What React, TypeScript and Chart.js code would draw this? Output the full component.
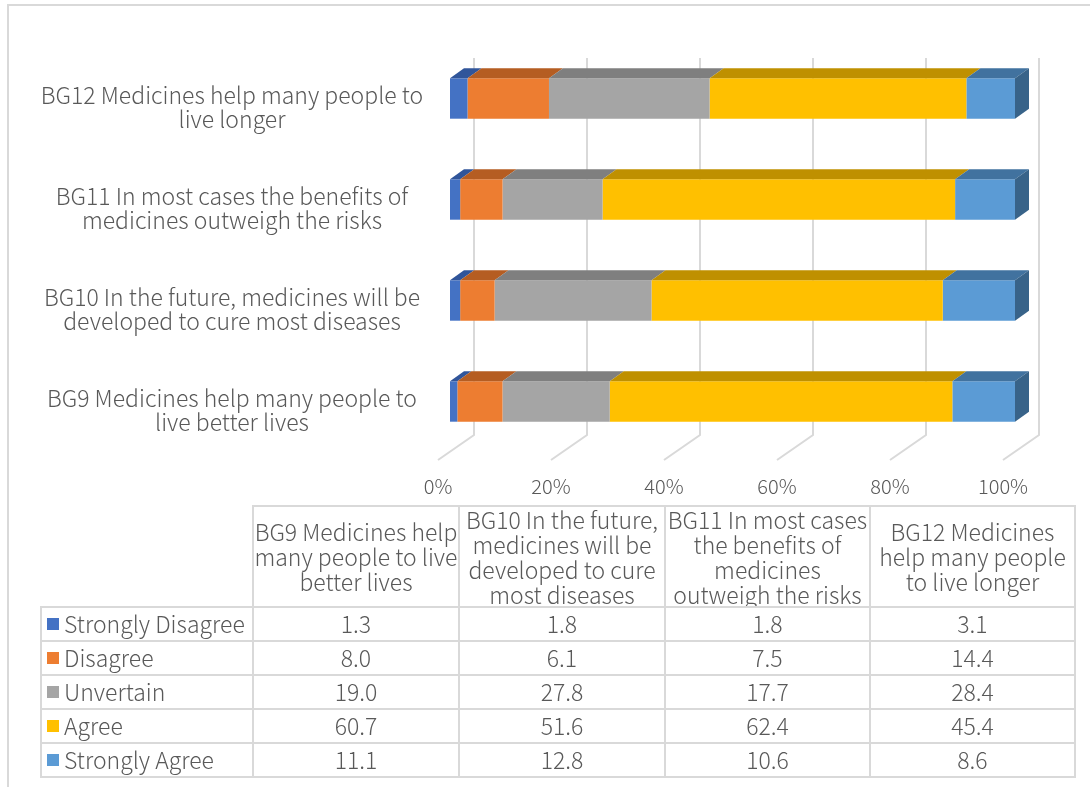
import React, { useEffect, useRef } from 'react';
import { Chart, registerables } from 'chart.js';

Chart.register(...registerables);

// ---------- data ----------
const categoryLabels: string[][] = [
  ['BG9 Medicines help many people to', 'live better lives'],
  ['BG10 In the future, medicines will be', 'developed to cure most diseases'],
  ['BG11 In most cases the benefits of', 'medicines outweigh the risks'],
  ['BG12 Medicines help many people to', 'live longer'],
];
const tableHeaderLines: string[][] = [
  ['BG9 Medicines help', 'many people to live', 'better lives'],
  ['BG10 In the future,', 'medicines will be', 'developed to cure', 'most diseases'],
  ['BG11 In most cases', 'the benefits of', 'medicines', 'outweigh the risks'],
  ['BG12 Medicines', 'help many people', 'to live longer'],
];
const seriesNames = ['Strongly Disagree', 'Disagree', 'Unvertain', 'Agree', 'Strongly Agree'];
const stronglyDisagree = [1.3, 1.8, 1.8, 3.1];
const disagree = [8.0, 6.1, 7.5, 14.4];
const uncertain = [19.0, 27.8, 17.7, 28.4];
const agree = [60.7, 51.6, 62.4, 45.4];
const stronglyAgree = [11.1, 12.8, 10.6, 8.6];
const xTicks = [0, 20, 40, 60, 80, 100];

const seriesValues = [stronglyDisagree, disagree, uncertain, agree, stronglyAgree];

// ---------- styles ----------
const FONT = '"Noto Sans CJK SC", "Noto Sans", sans-serif';
const WEIGHT = 300;
const TEXT = '#595959';
const GRID = '#d9d9d9';
const frontColors = ['#4472C4', '#ED7D31', '#A5A5A5', '#FFC000', '#5B9BD5'];
const topColors = ['#30559A', '#B55D22', '#7F7F7F', '#BF9000', '#41729F'];
const sideColor = '#386389';
const DEPTH_X = 14;
const DEPTH_Y = 10;
const colEdges = [41, 253, 459, 665, 870, 1075];
const rowEdges = [506, 607, 641, 675, 709, 743, 777];

const threeD = {
  id: 'threeD',
  beforeDatasetsDraw(chart: any) {
    const { ctx, chartArea, scales } = chart;
    const xs = scales.x;
    ctx.save();
    ctx.strokeStyle = GRID;
    ctx.lineWidth = 2;
    for (const v of xTicks) {
      const px = xs.getPixelForValue(v);
      const bx = px + 24;
      const by = chartArea.bottom - 17;
      ctx.beginPath();
      ctx.moveTo(bx, chartArea.top + 10);
      ctx.lineTo(bx, by);
      ctx.lineTo(px - 12, chartArea.bottom + 8);
      ctx.stroke();
    }
    ctx.restore();
  },
  afterDatasetsDraw(chart: any) {
    const { ctx } = chart;
    const n = chart.data.datasets.length;
    ctx.save();
    for (let d = 0; d < n; d++) {
      const meta = chart.getDatasetMeta(d);
      meta.data.forEach((el: any) => {
        const left = Math.min(el.base, el.x);
        const right = Math.max(el.base, el.x);
        const top = el.y - el.height / 2;
        const bottom = el.y + el.height / 2;
        ctx.fillStyle = topColors[d];
        ctx.beginPath();
        ctx.moveTo(left, top);
        ctx.lineTo(right, top);
        ctx.lineTo(right + DEPTH_X, top - DEPTH_Y);
        ctx.lineTo(left + DEPTH_X, top - DEPTH_Y);
        ctx.closePath();
        ctx.fill();
        if (d === n - 1) {
          ctx.fillStyle = sideColor;
          ctx.beginPath();
          ctx.moveTo(right, top);
          ctx.lineTo(right + DEPTH_X, top - DEPTH_Y);
          ctx.lineTo(right + DEPTH_X, bottom - DEPTH_Y);
          ctx.lineTo(right, bottom);
          ctx.closePath();
          ctx.fill();
        }
      });
    }
    ctx.restore();
  },
};

function ChartCanvas() {
  const ref = useRef<HTMLCanvasElement | null>(null);
  useEffect(() => {
    const canvas = ref.current!;
    const totals = categoryLabels.map((_, j) => seriesValues.reduce((s, arr) => s + arr[j], 0));

    const m = document.createElement('canvas').getContext('2d')!;
    m.font = `${WEIGHT} 23px ${FONT}`;
    let widest = 0;
    categoryLabels.forEach((lines) => lines.forEach((l) => { widest = Math.max(widest, m.measureText(l).width); }));
    const labelCenter = 232;
    const yPad = 450 - labelCenter - widest / 2;

    const chart = new Chart(canvas, {
      type: 'bar',
      data: {
        labels: categoryLabels as any,
        datasets: seriesNames.map((name, i) => ({
          label: name,
          data: seriesValues[i].map((v, j) => (v / totals[j]) * 100),
          backgroundColor: frontColors[i],
          borderWidth: 0,
          categoryPercentage: 0.8,
          barPercentage: 0.5,
        })),
      },
      options: {
        indexAxis: 'y',
        animation: false,
        responsive: false,
        maintainAspectRatio: false,
        layout: { padding: { top: 48, right: 75, left: 0, bottom: 0 } },
        plugins: { legend: { display: false }, tooltip: { enabled: false } },
        scales: {
          x: {
            stacked: true,
            min: 0,
            max: 100,
            grid: { display: false, drawTicks: false },
            border: { display: false },
            ticks: {
              stepSize: 20,
              callback: (v: any) => v + '%',
              labelOffset: -12,
              padding: 22,
              color: TEXT,
              font: { family: FONT, size: 20, weight: WEIGHT },
            },
            afterFit: (s: any) => {
              s.height = 60;
              s.paddingLeft = 0;
              s.paddingRight = 0;
            },
          },
          y: {
            stacked: true,
            reverse: true,
            grid: { display: false, drawTicks: false },
            border: { display: false },
            ticks: {
              crossAlign: 'center',
              padding: yPad,
              labelOffset: 9,
              color: TEXT,
              font: { family: FONT, size: 23, lineHeight: 1.05, weight: WEIGHT },
            },
            afterFit: (s: any) => {
              s.width = 450;
              s.paddingTop = 0;
              s.paddingBottom = 0;
            },
          },
        },
      } as any,
      plugins: [threeD],
    });
    return () => chart.destroy();
  }, []);
  return (
    <canvas
      ref={ref}
      width={1090}
      height={512}
      style={{ position: 'absolute', left: 0, top: 0, width: 1090, height: 512 }}
    />
  );
}

function Cell(props: { c: number; r: number; left?: boolean; children?: React.ReactNode }) {
  const x0 = colEdges[props.c];
  const x1 = colEdges[props.c + 1];
  const y0 = rowEdges[props.r];
  const y1 = rowEdges[props.r + 1];
  return (
    <div
      style={{
        position: 'absolute',
        left: x0 - 1,
        top: y0 - 1,
        width: x1 - x0 + 2,
        height: y1 - y0 + 2,
        boxSizing: 'border-box',
        border: `2px solid ${GRID}`,
        display: 'flex',
        flexDirection: 'column',
        alignItems: props.left ? 'flex-start' : 'center',
        justifyContent: 'center',
        paddingLeft: props.left ? 5 : 0,
        overflow: 'hidden',
        whiteSpace: 'nowrap',
        textAlign: 'center',
      }}
    >
      {props.children}
    </div>
  );
}

function DataTable() {
  return (
    <div
      style={{
        position: 'absolute',
        left: 0,
        top: 0,
        width: 1090,
        height: 787,
        fontFamily: FONT,
        fontWeight: WEIGHT,
        fontSize: 23,
        color: TEXT,
      }}
    >
      {tableHeaderLines.map((lines, i) => (
        <Cell key={'h' + i} c={i + 1} r={0}>
          {lines.map((l, k) => (
            <div key={k} style={{ lineHeight: '25px', height: 25 }}>{l}</div>
          ))}
        </Cell>
      ))}
      {seriesNames.map((name, i) => (
        <React.Fragment key={name}>
          <Cell c={0} r={i + 1} left>
            <div style={{ display: 'flex', alignItems: 'center', lineHeight: '28px', height: 28, marginTop: -3 }}>
              <span
                style={{
                  display: 'inline-block',
                  width: 12,
                  height: 12,
                  background: frontColors[i],
                  marginRight: 5,
                  marginTop: 3,
                }}
              />
              <span>{name}</span>
            </div>
          </Cell>
          {seriesValues[i].map((v, j) => (
            <Cell key={j} c={j + 1} r={i + 1}>
              <div style={{ lineHeight: '28px', height: 28, marginTop: -3 }}>{v.toFixed(1)}</div>
            </Cell>
          ))}
        </React.Fragment>
      ))}
    </div>
  );
}

export default function App() {
  return (
    <div
      style={{
        position: 'fixed',
        left: 0,
        top: 0,
        width: 1090,
        height: 787,
        overflow: 'hidden',
        background: '#ffffff',
      }}
    >
      <div
        style={{
          position: 'absolute',
          left: 7,
          top: 4,
          width: 1200,
          height: 900,
          borderTop: `2px solid ${GRID}`,
          borderLeft: `2px solid ${GRID}`,
        }}
      />
      <ChartCanvas />
      <DataTable />
    </div>
  );
}
